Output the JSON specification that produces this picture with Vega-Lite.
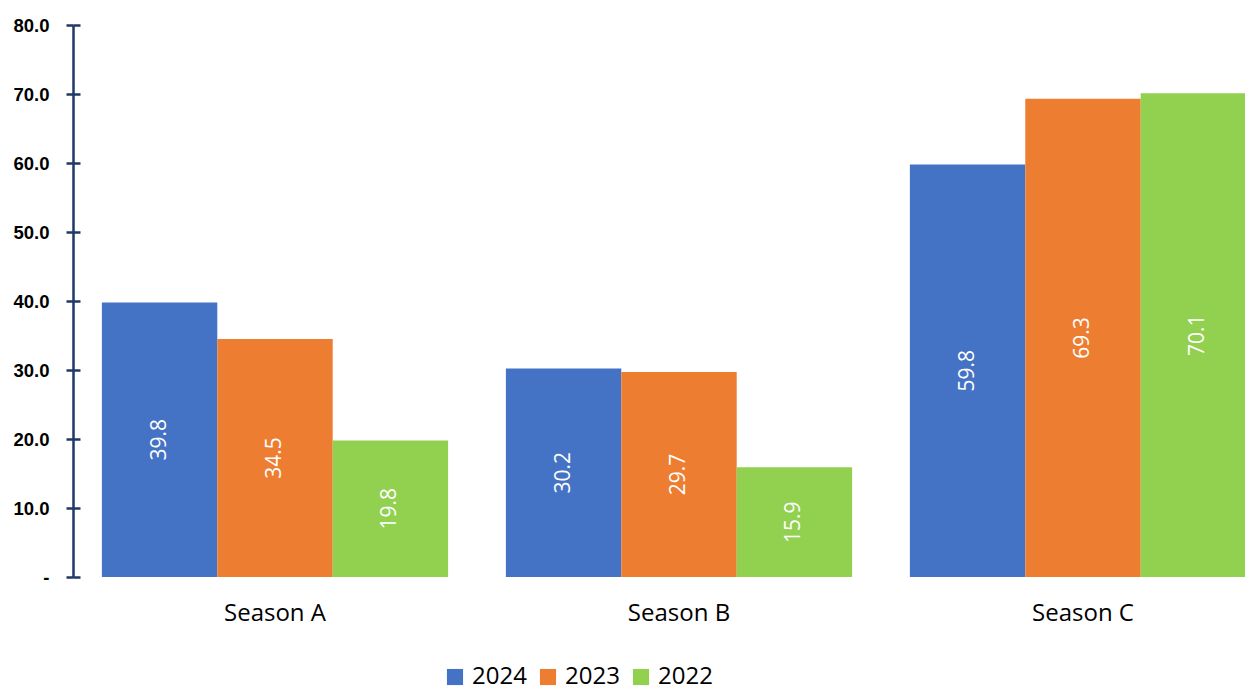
{
  "$schema": "https://vega.github.io/schema/vega-lite/v6.json",
  "autosize": {"type": "none"},
  "padding": {"left": 73, "top": 25, "right": 0, "bottom": 114},
  "width": 1212,
  "height": 552,
  "background": "white",
  "config": {"view": {"stroke": null}},
  "data": {"values": [
    {"season": "Season A", "year": "2024", "value": 39.8},
    {"season": "Season A", "year": "2023", "value": 34.5},
    {"season": "Season A", "year": "2022", "value": 19.8},
    {"season": "Season B", "year": "2024", "value": 30.2},
    {"season": "Season B", "year": "2023", "value": 29.7},
    {"season": "Season B", "year": "2022", "value": 15.9},
    {"season": "Season C", "year": "2024", "value": 59.8},
    {"season": "Season C", "year": "2023", "value": 69.3},
    {"season": "Season C", "year": "2022", "value": 70.1}
  ]},
  "encoding": {
    "x": {"field": "season", "type": "nominal", "title": null,
      "scale": {"paddingInner": 0.143, "paddingOuter": 0.0715},
      "axis": {"domain": false, "ticks": false, "labelAngle": 0, "labelFont": "Open Sans", "labelFontSize": 24, "labelColor": "#000000", "labelPadding": 24}},
    "xOffset": {"field": "year", "type": "nominal", "sort": ["2024", "2023", "2022"], "scale": {"paddingInner": 0, "paddingOuter": 0}}
  },
  "layer": [
    {
      "mark": {"type": "bar"},
      "encoding": {
        "y": {"field": "value", "type": "quantitative", "title": null,
          "scale": {"domain": [0, 80], "nice": false},
          "axis": {"values": [0, 10, 20, 30, 40, 50, 60, 70, 80], "grid": false,
            "labelExpr": "datum.value == 0 ? '-' : format(datum.value, '.1f')",
            "labelFont": "Liberation Sans", "labelFontWeight": "bold", "labelFontSize": 18.5, "labelColor": "#000000",
            "labelPadding": 17, "tickSize": 7, "tickWidth": 2.5, "tickColor": "#1F3864",
            "domainColor": "#1F3864", "domainWidth": 2.5}},
        "color": {"field": "year", "type": "nominal", "sort": ["2024", "2023", "2022"],
          "scale": {"domain": ["2024", "2023", "2022"], "range": ["#4472C4", "#ED7D31", "#92D050"]},
          "legend": {"title": null, "orient": "none", "legendX": 370, "legendY": 640, "direction": "horizontal",
            "symbolType": "square", "symbolSize": 260, "symbolStrokeWidth": 0, "labelFont": "Open Sans", "labelFontSize": 24, "labelColor": "#000000", "columnPadding": 9, "labelOffset": 5}}
      }
    },
    {
      "mark": {"type": "tick", "opacity": 0},
      "encoding": {
        "y": {"field": "value", "type": "quantitative",
          "axis": {"orient": "left", "offset": -7, "values": [0, 10, 20, 30, 40, 50, 60, 70, 80], "grid": false, "labels": false, "domain": false, "title": null, "tickSize": 7, "tickWidth": 2.5, "tickColor": "#1F3864"}}
      }
    },
    {
      "transform": [{"calculate": "datum.value / 2", "as": "mid"}],
      "mark": {"type": "text", "angle": 270, "align": "center", "baseline": "middle", "color": "white", "font": "Open Sans", "fontSize": 21},
      "encoding": {
        "y": {"field": "mid", "type": "quantitative", "axis": null},
        "text": {"field": "value", "type": "quantitative", "format": ".1f"}
      }
    }
  ],
  "resolve": {"scale": {"y": "shared"}, "axis": {"y": "independent"}}
}
